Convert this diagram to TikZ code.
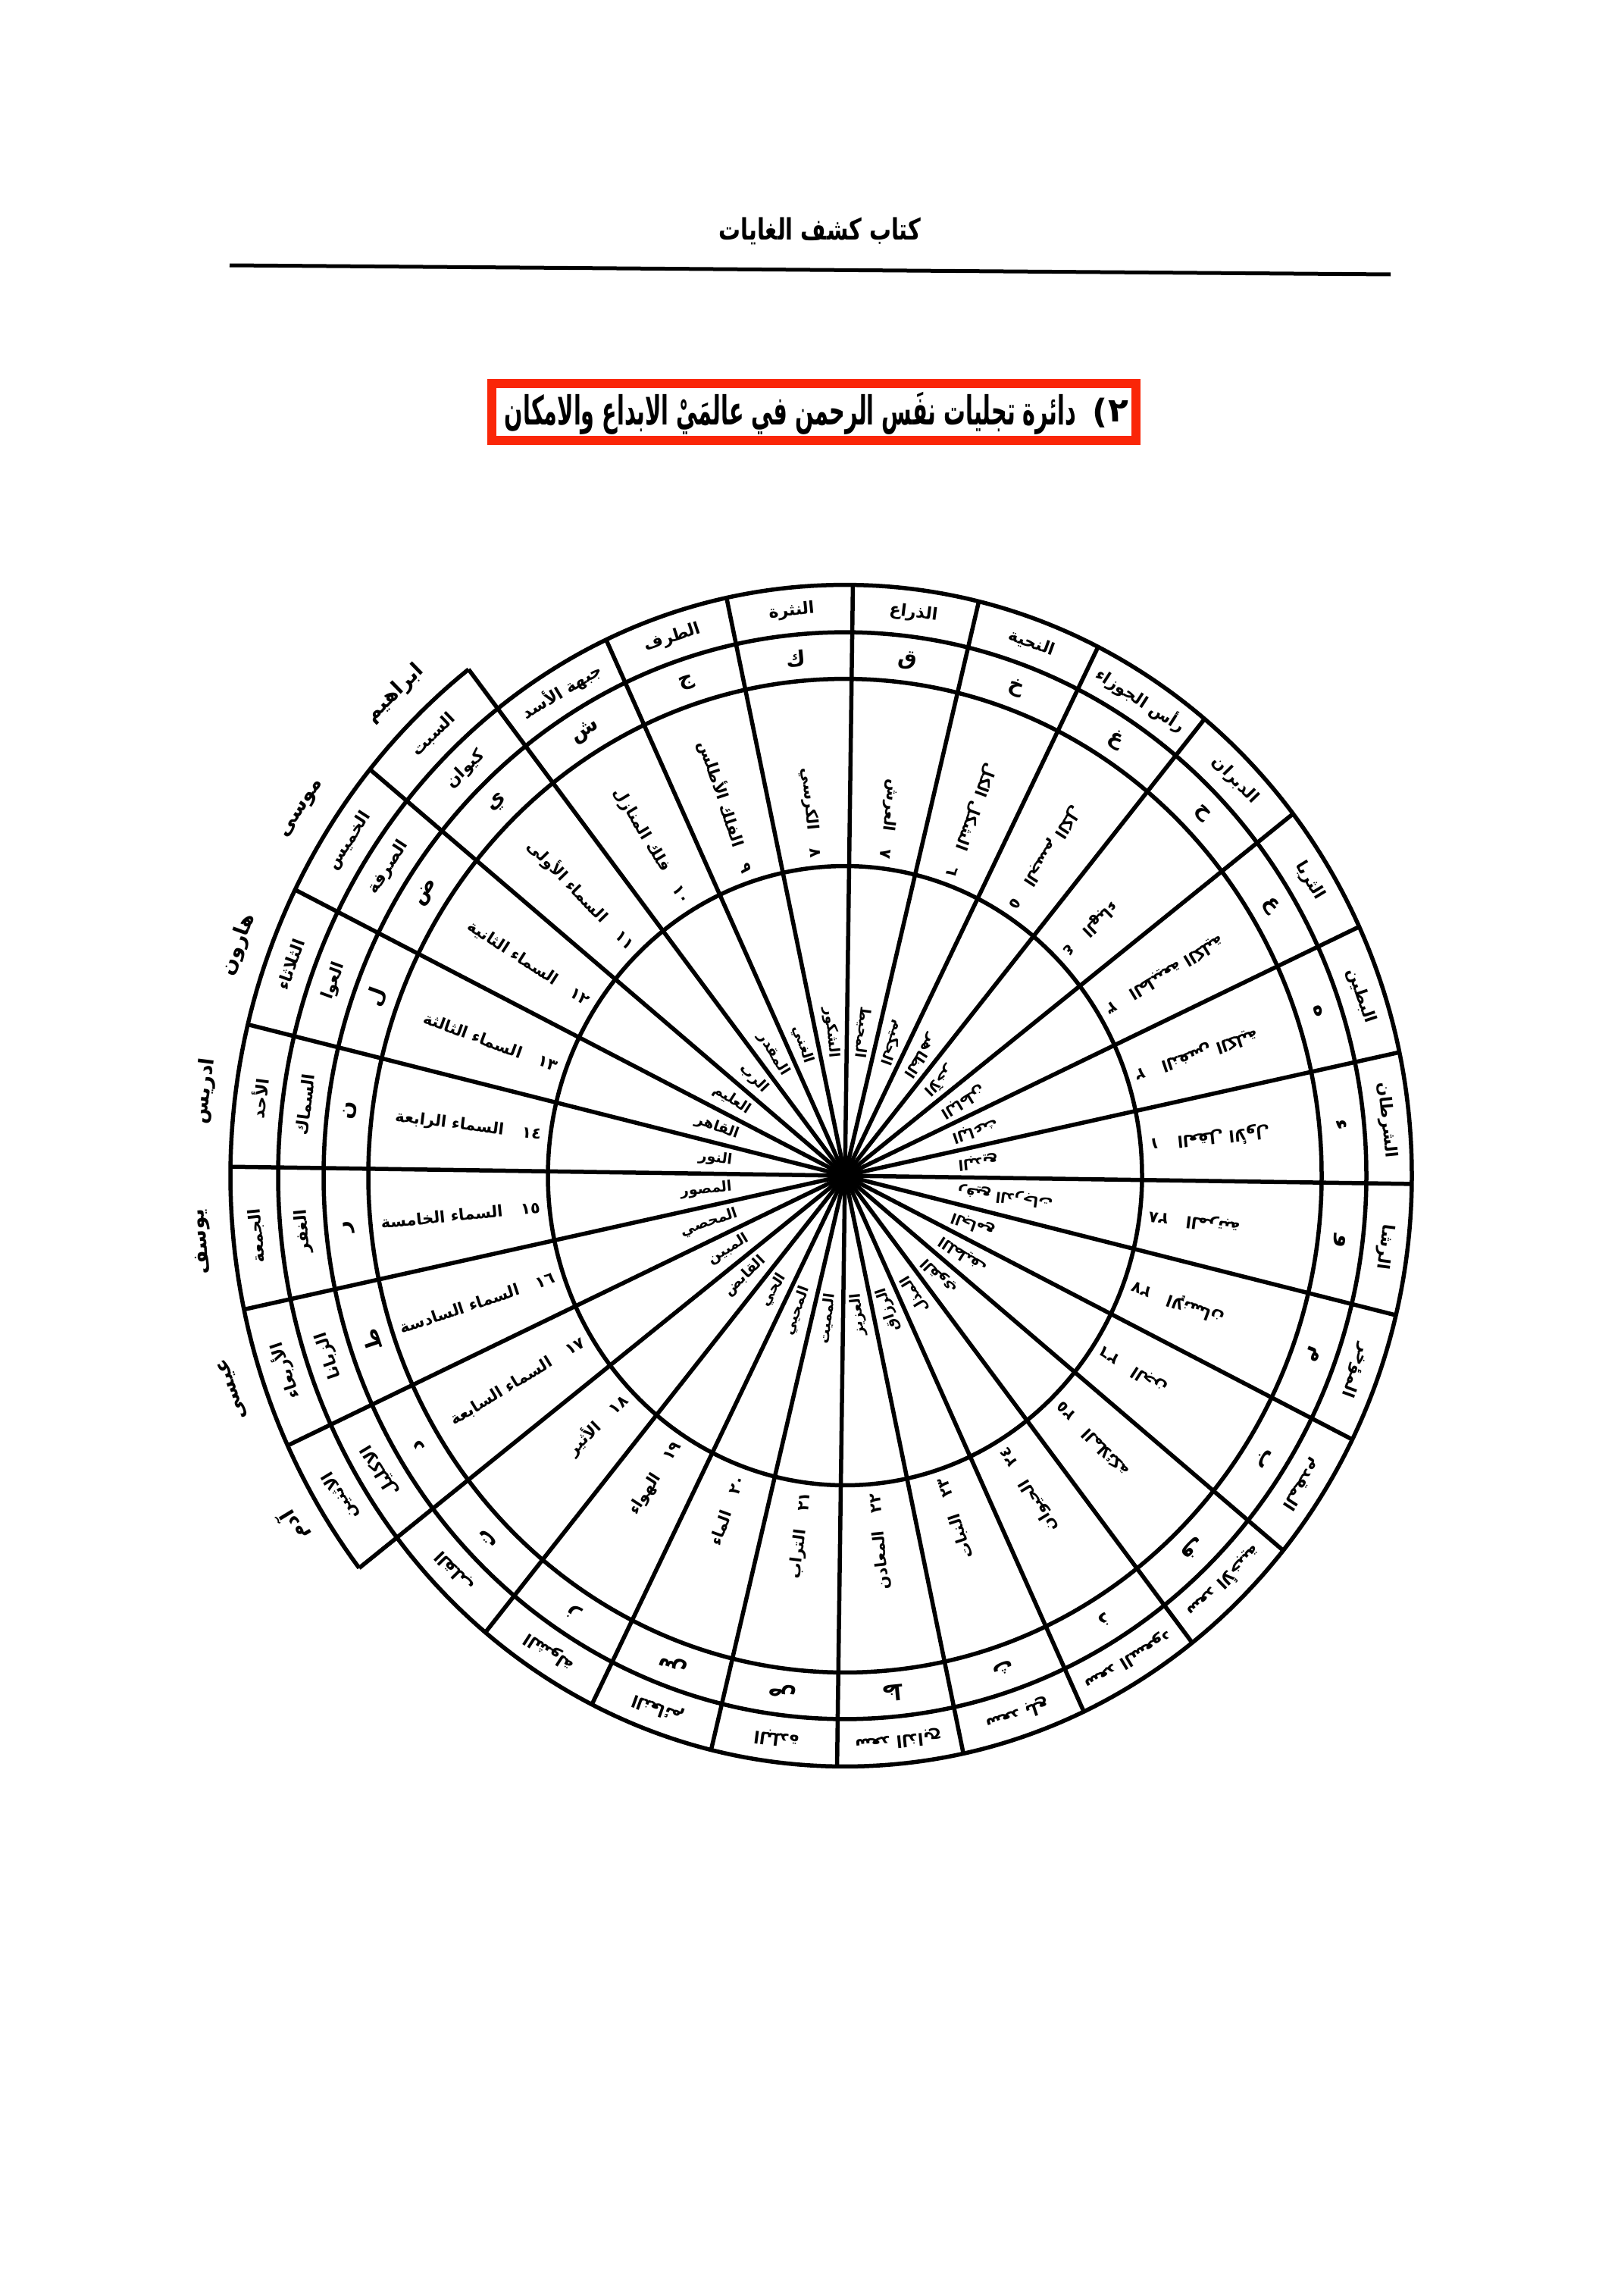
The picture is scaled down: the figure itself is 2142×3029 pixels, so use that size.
\documentclass[tikz,border=0pt]{standalone}
\usepackage{fontspec}
\usepackage{graphicx}
\newfontfamily\arabicfont[Script=Arabic]{DejaVu Sans}
\TeXXeTstate=1
\newcommand\ar[1]{{\arabicfont\bfseries\beginR #1\endR}}
\definecolor{titlered}{RGB}{250,38,8}
\begin{document}
\begin{tikzpicture}[x=1pt,y=-1pt,
  seg/.style={line width=5.5pt},
  ring/.style={font=\arabicfont\fontsize{22}{26}\selectfont, inner sep=0pt},
  prop/.style={font=\arabicfont\fontsize{27}{30}\selectfont, inner sep=0pt},
  letr/.style={font=\arabicfont\fontsize{28}{30}\selectfont, inner sep=0pt},
  sname/.style={font=\arabicfont\fontsize{21}{24}\selectfont, anchor=east, inner sep=0pt},
  dname/.style={font=\arabicfont\fontsize{19}{21}\selectfont, anchor=east, inner sep=0pt}]
\useasboundingbox (0,0) rectangle (2142,3029);
\fill[white] (0,0) rectangle (2142,3029);
% header
\node (header) at (1082,305) {\resizebox*{267pt}{36pt}{\ar{كتاب كشف الغايات}}};
\coordinate (hl) at (303,350);
\coordinate (hr) at (1835,362);
\draw[line width=5pt] (hl) -- (hr);
% title
\draw[titlered, line width=12pt] (649,506) rectangle (1499,581);
\node (title) at (1043,545) {\resizebox*{754pt}{56pt}{\ar{دائرة تجليات نفَس الرحمن في عالمَيْ الابداع والامكان}}};
\node[font=\arabicfont\bfseries\fontsize{44}{46}\selectfont, inner sep=0pt] (tnum) at (1476,543) {٢};
\node[font=\arabicfont\bfseries\fontsize{44}{46}\selectfont, inner sep=0pt] (tpar) at (1452,545) {)};
% circle
\begin{scope}[shift={(1115,1551)}, yscale=-1.042]
\def\al{12.857142}
\def\dl{-0.8}
\coordinate (O) at (0,0);
\draw[seg] (O) circle[radius=748];
\draw[seg] (O) circle[radius=688];
\draw[seg] (O) circle[radius=629];
\draw[seg] (O) circle[radius=392];
\draw[seg] plot[domain=10*\al+\dl:17*\al+\dl, samples=80] (\x:811);
\foreach \k in {0,...,27}{
  \pgfmathsetmacro\aa{\k*\al+\dl}
  \pgfmathsetmacro\rr{ifthenelse(and(\k>=10,\k<=17),811,748)}
  \draw[seg] (O) -- (\aa:\rr);
}
\foreach \k/\man/\lt/\num/\nm/\dv in {
1/الشرطان/ء/١/العقل الأول/البديع,
2/البطين/ه/٢/النفس الكلية/الباعث,
3/الثريا/ع/٣/الطبيعة الكلية/الباطن,
4/الدبران/ح/٤/الهباء/الآخر,
5/رأس الجوزاء/غ/٥/الجسم الكل/الظاهر,
6/النحية/خ/٦/الشكل الكل/الحكيم,
7/الذراع/ق/٧/العرش/المحيط,
8/النثرة/ك/٨/الكرسي/الشكور,
9/الطرف/ج/٩/الفلك الأطلس/الغني,
10/جبهة الأسد/ش/١٠/فلك المنازل/المقدر,
11/كيوان/ي/١١/السماء الأولى/الرب,
12/الصرفة/ض/١٢/السماء الثانية/العليم,
13/العوا/ل/١٣/السماء الثالثة/القاهر,
14/السماك/ن/١٤/السماء الرابعة/النور,
15/الغفر/ر/١٥/السماء الخامسة/المصور,
16/الزبانا/ط/١٦/السماء السادسة/المحصي,
17/الاكليل/د/١٧/السماء السابعة/المبين,
18/القلب/ت/١٨/الأثير/القابض,
19/الشولة/ز/١٩/الهواء/الحي,
20/النعائم/س/٢٠/الماء/المحيي,
21/البلدة/ص/٢١/التراب/المميت,
22/سعد الذابح/ظ/٢٢/المعادن/العزيز,
23/سعد بلع/ث/٢٣/النبات/الرزاق,
24/سعد السعود/ذ/٢٤/الحيوان/المذل,
25/سعد الأخبية/ف/٢٥/الملائكة/القوي,
26/المقدم/ب/٢٦/الجن/اللطيف,
27/المؤخر/م/٢٧/الإنسان/الجامع,
28/الرشا/و/٢٨/المرتبة/رفيع الدرجات}{
  \pgfmathsetmacro\t{(\k-0.5)*\al+\dl}
  \node[ring, rotate=\t-90] (m\k) at (\t:718) {\ar{\man}};
  \node[letr, rotate=\t-90] (l\k) at (\t:658) {\ar{\lt}};
  \node[sname, rotate=\t-180] (s\k) at (\t:404) {\ar{\beginL\num\endL\hspace{24pt}\nm}};
  \node[dname, rotate=\t-180] (d\k) at (\t:150) {\ar{\dv}};
}
\foreach \k/\day/\pr in {
11/السبت/ابراهيم,
12/الخميس/موسى,
13/الثلاثاء/هارون,
14/الأحد/ادريس,
15/الجمعة/يوسف,
16/الأربعاء/عيسى,
17/الاثنين/آدم}{
  \pgfmathsetmacro\t{(\k-0.5)*\al+\dl}
  \node[ring, rotate=\t-90] (w\k) at (\t:779) {\ar{\day}};
  \node[prop, rotate=\t-90] (p\k) at (\t:852) {\ar{\pr}};
}
\end{scope}
\end{tikzpicture}
\end{document}
